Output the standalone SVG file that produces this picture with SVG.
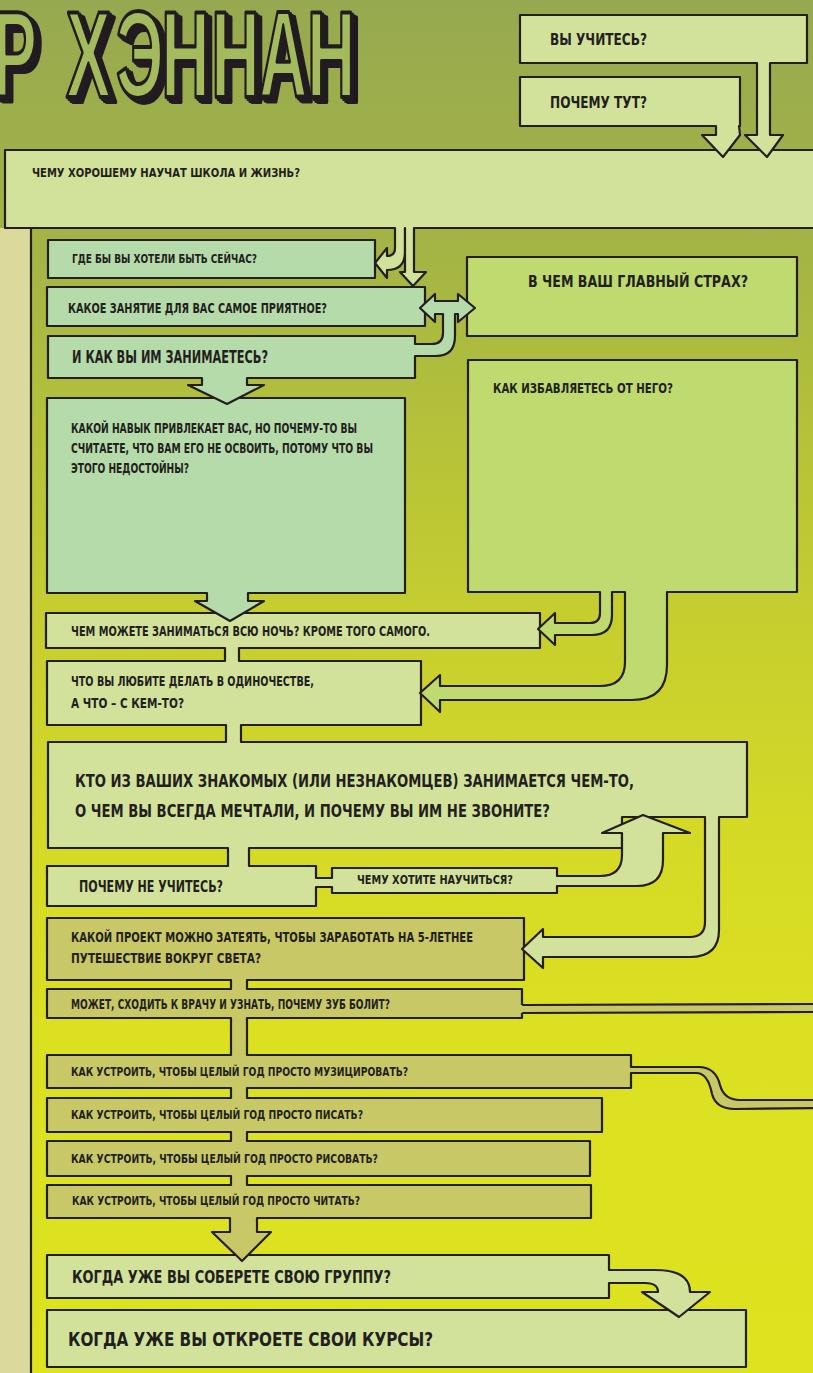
<svg xmlns="http://www.w3.org/2000/svg" width="813" height="1373" viewBox="0 0 813 1373">
<defs>
<linearGradient id="bg" x1="0" y1="0" x2="0" y2="1">
<stop offset="0" stop-color="#97a950"/>
<stop offset="0.17" stop-color="#a3b346"/>
<stop offset="0.3" stop-color="#b3c03b"/>
<stop offset="0.45" stop-color="#c6ce2f"/>
<stop offset="0.6" stop-color="#d4d926"/>
<stop offset="0.75" stop-color="#dbe021"/>
<stop offset="1" stop-color="#dee31f"/>
</linearGradient>
<filter id="ext" x="-5%" y="-5%" width="115%" height="125%">
<feFlood flood-color="#231f20"/>
<feComposite in2="SourceAlpha" operator="in" result="sh"/>
<feOffset in="sh" dx="2" dy="2" result="o1"/>
<feOffset in="sh" dx="4" dy="3.5" result="o2"/>
<feOffset in="sh" dx="6" dy="5" result="o3"/>
<feMerge><feMergeNode in="o3"/><feMergeNode in="o2"/><feMergeNode in="o1"/><feMergeNode in="SourceGraphic"/></feMerge>
</filter>
</defs>
<style>
.bx{stroke:#231f20;stroke-width:2.2;stroke-linejoin:round}
.lt{fill:#d3e29a}.mn{fill:#b6dbaa}.yg{fill:#bfda6e}.kh{fill:#c9c866}
.cf{stroke:none}
.cs{fill:none;stroke:#231f20;stroke-width:2.2;stroke-linejoin:round;stroke-linecap:round}
.t{font-family:"Liberation Sans Narrow","DejaVu Sans Condensed","Liberation Sans",sans-serif;font-weight:bold;fill:#231f20}
.title{font-family:"Liberation Sans","DejaVu Sans",sans-serif;font-weight:bold;fill:#a3bb5c;stroke:#231f20;stroke-width:4;stroke-linejoin:round}
</style>
<rect x="0" y="0" width="813" height="1373" fill="url(#bg)"/>
<rect x="0" y="228" width="30" height="1145" fill="#dcd99c"/>
<line x1="31" y1="228" x2="31" y2="1373" class="cs"/>

<g id="title" filter="url(#ext)">
<text class="title" transform="scale(0.55,1)" y="97" font-size="122" x="-14 60 120 211 293 384 471 558">Р ХЭННАН</text>
</g>

<g id="n-vy-uchites">
<rect x="520" y="15" width="287" height="48" class="bx lt"/>
<text class="t" x="550" y="45" font-size="15" textLength="97" lengthAdjust="spacingAndGlyphs">ВЫ УЧИТЕСЬ?</text>
</g>
<g id="n-pochemu-tut">
<rect x="520" y="77" width="220" height="49" class="bx lt"/>
<text class="t" x="550" y="108" font-size="15" textLength="97" lengthAdjust="spacingAndGlyphs">ПОЧЕМУ ТУТ?</text>
</g>
<g id="n-chemu-horoshemu">
<rect x="5" y="150" width="815" height="78" class="bx lt"/>
<text class="t" x="32" y="177" font-size="13" textLength="268" lengthAdjust="spacingAndGlyphs">ЧЕМУ ХОРОШЕМУ НАУЧАТ ШКОЛА И ЖИЗНЬ?</text>
</g>
<g id="n-gde">
<rect x="48" y="240" width="327" height="38" class="bx mn"/>
<text class="t" x="72" y="263" font-size="13" textLength="185" lengthAdjust="spacingAndGlyphs">ГДЕ БЫ ВЫ ХОТЕЛИ БЫТЬ СЕЙЧАС?</text>
</g>
<g id="n-kakoe">
<rect x="47" y="287" width="378" height="39" class="bx mn"/>
<text class="t" x="68" y="313" font-size="14" textLength="259" lengthAdjust="spacingAndGlyphs">КАКОЕ ЗАНЯТИЕ ДЛЯ ВАС САМОЕ ПРИЯТНОЕ?</text>
</g>
<g id="n-i-kak">
<rect x="48" y="336" width="367" height="42" class="bx mn"/>
<text class="t" x="72" y="363" font-size="17" textLength="196" lengthAdjust="spacingAndGlyphs">И КАК ВЫ ИМ ЗАНИМАЕТЕСЬ?</text>
</g>
<g id="n-strah">
<rect x="467" y="257" width="330" height="79" class="bx yg"/>
<text class="t" x="528" y="287" font-size="16" textLength="220" lengthAdjust="spacingAndGlyphs">В ЧЕМ ВАШ ГЛАВНЫЙ СТРАХ?</text>
</g>
<g id="n-izbav">
<rect x="468" y="360" width="329" height="232" class="bx yg"/>
<text class="t" x="493" y="393" font-size="14" textLength="180" lengthAdjust="spacingAndGlyphs">КАК ИЗБАВЛЯЕТЕСЬ ОТ НЕГО?</text>
</g>
<g id="n-navyk">
<rect x="47" y="398" width="358" height="195" class="bx mn"/>
<text class="t" x="71" y="433" font-size="13.5" textLength="286" lengthAdjust="spacingAndGlyphs">КАКОЙ НАВЫК ПРИВЛЕКАЕТ ВАС, НО ПОЧЕМУ-ТО ВЫ</text>
<text class="t" x="71" y="453" font-size="13.5" textLength="302" lengthAdjust="spacingAndGlyphs">СЧИТАЕТЕ, ЧТО ВАМ ЕГО НЕ ОСВОИТЬ, ПОТОМУ ЧТО ВЫ</text>
<text class="t" x="71" y="473" font-size="13.5" textLength="118" lengthAdjust="spacingAndGlyphs">ЭТОГО НЕДОСТОЙНЫ?</text>
</g>
<g id="n-vsyu-noch">
<rect x="46" y="613" width="494" height="35" class="bx lt"/>
<text class="t" x="71" y="636" font-size="14" textLength="359" lengthAdjust="spacingAndGlyphs">ЧЕМ МОЖЕТЕ ЗАНИМАТЬСЯ ВСЮ НОЧЬ? КРОМЕ ТОГО САМОГО.</text>
</g>
<g id="n-odinochestvo">
<rect x="47" y="661" width="374" height="64" class="bx lt"/>
<text class="t" x="71" y="686" font-size="13.5" textLength="243" lengthAdjust="spacingAndGlyphs">ЧТО ВЫ ЛЮБИТЕ ДЕЛАТЬ В ОДИНОЧЕСТВЕ,</text>
<text class="t" x="71" y="708" font-size="13.5" textLength="113" lengthAdjust="spacingAndGlyphs">А ЧТО – С КЕМ-ТО?</text>
</g>
<g id="n-kto">
<path d="M48,742 L747,742 L747,817 L622,817 L622,848 L48,848 Z" class="bx lt"/>
<text class="t" x="75" y="787" font-size="18" textLength="559" lengthAdjust="spacingAndGlyphs">КТО ИЗ ВАШИХ ЗНАКОМЫХ (ИЛИ НЕЗНАКОМЦЕВ) ЗАНИМАЕТСЯ ЧЕМ-ТО,</text>
<text class="t" x="75" y="817" font-size="18" textLength="475" lengthAdjust="spacingAndGlyphs">О ЧЕМ ВЫ ВСЕГДА МЕЧТАЛИ, И ПОЧЕМУ ВЫ ИМ НЕ ЗВОНИТЕ?</text>
</g>
<g id="n-pochemu-ne">
<rect x="47" y="866" width="269" height="40" class="bx lt"/>
<text class="t" x="79" y="892" font-size="15" textLength="144" lengthAdjust="spacingAndGlyphs">ПОЧЕМУ НЕ УЧИТЕСЬ?</text>
</g>
<g id="n-chemu-hotite">
<rect x="332" y="868" width="225" height="25" class="bx lt"/>
<text class="t" x="357" y="884" font-size="12" textLength="156" lengthAdjust="spacingAndGlyphs">ЧЕМУ ХОТИТЕ НАУЧИТЬСЯ?</text>
</g>
<g id="n-proekt">
<rect x="47" y="918" width="477" height="62" class="bx kh"/>
<text class="t" x="71" y="942" font-size="14" textLength="402" lengthAdjust="spacingAndGlyphs">КАКОЙ ПРОЕКТ МОЖНО ЗАТЕЯТЬ, ЧТОБЫ ЗАРАБОТАТЬ НА 5-ЛЕТНЕЕ</text>
<text class="t" x="71" y="963" font-size="14" textLength="190" lengthAdjust="spacingAndGlyphs">ПУТЕШЕСТВИЕ ВОКРУГ СВЕТА?</text>
</g>
<g id="n-zub">
<rect x="47" y="989" width="475" height="29" class="bx kh"/>
<text class="t" x="71" y="1009" font-size="13.5" textLength="319" lengthAdjust="spacingAndGlyphs">МОЖЕТ, СХОДИТЬ К ВРАЧУ И УЗНАТЬ, ПОЧЕМУ ЗУБ БОЛИТ?</text>
</g>
<g id="n-muz">
<rect x="47" y="1055" width="584" height="33" class="bx kh"/>
<text class="t" x="71" y="1076" font-size="13" textLength="337" lengthAdjust="spacingAndGlyphs">КАК УСТРОИТЬ, ЧТОБЫ ЦЕЛЫЙ ГОД ПРОСТО МУЗИЦИРОВАТЬ?</text>
</g>
<g id="n-pisat">
<rect x="47" y="1098" width="555" height="34" class="bx kh"/>
<text class="t" x="71" y="1119" font-size="13" textLength="292" lengthAdjust="spacingAndGlyphs">КАК УСТРОИТЬ, ЧТОБЫ ЦЕЛЫЙ ГОД ПРОСТО ПИСАТЬ?</text>
</g>
<g id="n-risovat">
<rect x="47" y="1141" width="543" height="35" class="bx kh"/>
<text class="t" x="71" y="1163" font-size="13" textLength="307" lengthAdjust="spacingAndGlyphs">КАК УСТРОИТЬ, ЧТОБЫ ЦЕЛЫЙ ГОД ПРОСТО РИСОВАТЬ?</text>
</g>
<g id="n-chitat">
<rect x="47" y="1185" width="544" height="33" class="bx kh"/>
<text class="t" x="72" y="1205" font-size="13" textLength="288" lengthAdjust="spacingAndGlyphs">КАК УСТРОИТЬ, ЧТОБЫ ЦЕЛЫЙ ГОД ПРОСТО ЧИТАТЬ?</text>
</g>
<g id="n-gruppu">
<rect x="47" y="1255" width="562" height="43" class="bx lt"/>
<text class="t" x="72" y="1283" font-size="18" textLength="319" lengthAdjust="spacingAndGlyphs">КОГДА УЖЕ ВЫ СОБЕРЕТЕ СВОЮ ГРУППУ?</text>
</g>
<g id="n-kursy">
<rect x="47" y="1310" width="699" height="57" class="bx lt"/>
<text class="t" x="68" y="1346" font-size="20" textLength="365" lengthAdjust="spacingAndGlyphs">КОГДА УЖЕ ВЫ ОТКРОЕТЕ СВОИ КУРСЫ?</text>
</g>

<g id="connectors">
<path class="cf lt" d="M716,124 L716,135 L702,135 L723,157 L740,135 L739,124 Z"/>
<path class="cs" d="M716,126 L716,135 L702,135 L723,157 L740,135 L739,126"/>
<path class="cf lt" d="M757,61 L757,135 L745,135 L767,157 L783,135 L770,135 L770,61 Z"/>
<path class="cs" d="M757,63 L757,135 L745,135 L767,157 L783,135 L770,135 L770,63"/>
<path class="cf lt" d="M395,225 L395,248 Q395,256 387,256 L387,248 L375,263 L387,278 L387,270 Q405,270 405,252 L405,225 Z"/>
<path class="cs" d="M395,228 L395,248 Q395,256 387,256 L387,248 L375,263 L387,278 L387,270 Q405,270 405,252 L405,228"/>
<path class="cf lt" d="M405,225 L405,272 L400,272 L413,286 L426,272 L414,272 L414,225 Z"/>
<path class="cs" d="M405,228 L405,272 L400,272 L413,286 L426,272 L414,272 L414,228"/>
<path class="cf mn" d="M420,308 L435,294 L435,301 L458,301 L458,294 L475,308 L458,322 L458,314 L455,314 L455,336 Q455,356 436,356 L413,356 L413,344 L432,344 Q443,344 443,333 L443,314 L435,314 L435,322 Z"/>
<path class="cs" d="M443,314 L435,314 L435,322 L420,308 L435,294 L435,301 L458,301 L458,294 L475,308 L458,322 L458,314 L455,314 L455,336 Q455,356 436,356 L415,356 M415,344 L432,344 Q443,344 443,333 L443,314"/>
<path class="cf mn" d="M202,374 L202,385 L188,385 L227,404 L264,385 L247,385 L247,374 Z"/>
<path class="cs" d="M202,378 L202,385 L188,385 L227,404 L264,385 L247,385 L247,378"/>
<path class="cf mn" d="M207,590 L207,601 L195,601 L230,621 L264,601 L248,601 L248,590 Z"/>
<path class="cs" d="M207,593 L207,601 L195,601 L230,621 L264,601 L248,601 L248,593"/>
<path class="cf lt" d="M225,646 L239,646 L239,663 L225,663 Z"/>
<path class="cs" d="M225,648 L225,661 M239,648 L239,661"/>
<path class="cf lt" d="M226,723 L241,723 L241,744 L226,744 Z"/>
<path class="cs" d="M226,725 L226,742 M241,725 L241,742"/>
<path class="cf yg" d="M600,589 L600,613 Q600,623 590,623 L555,623 L555,613 L538,629 L555,645 L555,635 L592,635 Q612,635 612,615 L612,589 Z"/>
<path class="cs" d="M600,592 L600,613 Q600,623 590,623 L555,623 L555,613 L538,629 L555,645 L555,635 L592,635 Q612,635 612,615 L612,592"/>
<path class="cf yg" d="M625,589 L625,662 Q625,686 600,686 L440,686 L440,675 L420,693 L440,712 L440,700 L632,700 Q667,700 667,665 L667,589 Z"/>
<path class="cs" d="M625,592 L625,662 Q625,686 600,686 L440,686 L440,675 L420,693 L440,712 L440,700 L632,700 Q667,700 667,665 L667,592"/>
<path class="cf lt" d="M228,846 L249,846 L249,868 L228,868 Z"/>
<path class="cs" d="M228,848 L228,866 M249,848 L249,866"/>
<path class="cf lt" d="M314,878 L334,878 L334,887 L314,887 Z"/>
<path class="cs" d="M316,878 L332,878 M316,887 L332,887"/>
<path class="cf lt" d="M555,876 L600,876 Q622,876 622,855 L622,833 L602,833 L643,815 L690,833 L663,833 L663,860 Q663,886 637,886 L555,886 Z"/>
<path class="cs" d="M557,876 L600,876 Q622,876 622,855 L622,833 L602,833 L643,815 L690,833 L663,833 L663,860 Q663,886 637,886 L557,886"/>
<path class="cf lt" d="M705,815 L705,922 Q705,937 690,937 L543,937 L543,929 L522,949 L543,968 L543,957 L690,957 Q719,957 719,930 L719,815 Z"/>
<path class="cs" d="M705,817 L705,922 Q705,937 690,937 L543,937 L543,929 L522,949 L543,968 L543,957 L690,957 Q719,957 719,930 L719,817"/>
<path class="cf kh" d="M231,978 L247,978 L247,991 L231,991 Z"/>
<path class="cs" d="M231,980 L231,989 M247,980 L247,989"/>
<path class="cf kh" d="M520,1005 L815,1004 L815,1012 L520,1013 Z"/>
<path class="cs" d="M523,1005 L815,1004 M523,1013 L815,1012"/>
<path class="cf kh" d="M231,1016 L247,1016 L247,1057 L231,1057 Z"/>
<path class="cs" d="M231,1018 L231,1055 M247,1018 L247,1055"/>
<path class="cf kh" d="M629,1067 L700,1067 Q716,1068 720,1085 Q724,1100 740,1100 L815,1100 L815,1108 L735,1109 Q716,1109 712,1094 Q708,1073 696,1073 L629,1073 Z"/>
<path class="cs" d="M631,1067 L700,1067 Q716,1068 720,1085 Q724,1100 740,1100 L815,1100 M815,1108 L735,1109 Q716,1109 712,1094 Q708,1073 696,1073 L631,1073"/>
<path class="cf kh" d="M231,1086 L247,1086 L247,1100 L231,1100 Z"/>
<path class="cs" d="M231,1088 L231,1098 M247,1088 L247,1098"/>
<path class="cf kh" d="M231,1130 L247,1130 L247,1143 L231,1143 Z"/>
<path class="cs" d="M231,1132 L231,1141 M247,1132 L247,1141"/>
<path class="cf kh" d="M231,1174 L247,1174 L247,1187 L231,1187 Z"/>
<path class="cs" d="M231,1176 L231,1185 M247,1176 L247,1185"/>
<path class="cf kh" d="M230,1216 L230,1232 L212,1232 L242,1261 L271,1232 L257,1232 L257,1216 Z"/>
<path class="cs" d="M230,1218 L230,1232 L212,1232 L242,1261 L271,1232 L257,1232 L257,1218"/>
<path class="cf lt" d="M606,1270 L655,1270 Q690,1270 690,1292 L710,1292 L679,1317 L642,1292 L658,1292 Q658,1283 645,1283 L606,1283 Z"/>
<path class="cs" d="M609,1270 L655,1270 Q690,1270 690,1292 L710,1292 L679,1317 L642,1292 L658,1292 Q658,1283 645,1283 L609,1283"/>
</g>
</svg>
